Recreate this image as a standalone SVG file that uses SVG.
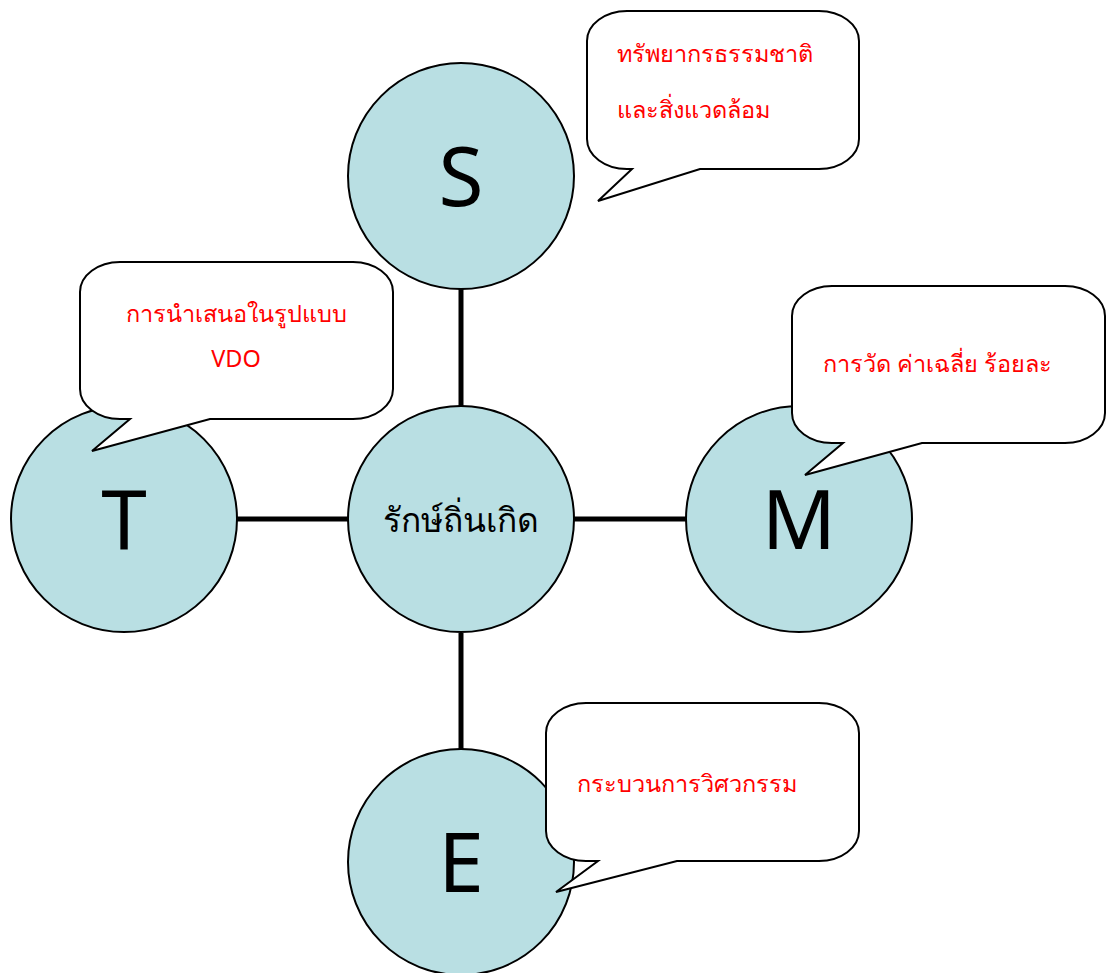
<svg xmlns="http://www.w3.org/2000/svg" width="1107" height="973" viewBox="0 0 1107 973">
<style>
.node{fill:#b9dfe3;stroke:#000;stroke-width:2}
.conn{stroke:#000;stroke-width:5;fill:none}
.call{fill:#fff;stroke:#000;stroke-width:2;stroke-linejoin:miter}
.big{font-family:"Noto Sans","DejaVu Sans",sans-serif;font-size:82px;fill:#000;text-anchor:middle}
.ctr{font-family:"Noto Sans","DejaVu Sans",sans-serif;font-size:33.5px;fill:#000;text-anchor:middle}
.lab{font-family:"Noto Sans","DejaVu Sans",sans-serif;font-size:23.5px;fill:#ff0000}
</style>
<rect width="1107" height="973" fill="#fff"/>
<g id="connectors">
<line class="conn" x1="461" y1="289" x2="461" y2="406"/>
<line class="conn" x1="461" y1="633" x2="461" y2="749"/>
<line class="conn" x1="236" y1="519" x2="349" y2="519"/>
<line class="conn" x1="573" y1="519" x2="687" y2="519"/>
</g>
<g id="node-center">
<circle class="node" cx="461" cy="519" r="113"/>
<text class="ctr" x="461" y="532">รักษ์ถิ่นเกิด</text>
</g>
<g id="node-S">
<circle class="node" cx="461" cy="176" r="113"/>
<text class="big" x="461" y="206">S</text>
</g>
<g id="node-T">
<circle class="node" cx="124" cy="519" r="113"/>
<text class="big" x="124" y="549">T</text>
</g>
<g id="node-M">
<circle class="node" cx="799" cy="519" r="113"/>
<text class="big" x="799" y="549">M</text>
</g>
<g id="node-E">
<circle class="node" cx="461" cy="862" r="113"/>
<text class="big" x="461" y="892">E</text>
</g>
<g id="callout-S">
<path class="call" d="M627,11 H819 A40,30 0 0 1 859,41 V139 A40,30 0 0 1 819,169 H700 L598,201 L632,169 H627 A40,30 0 0 1 587,139 V41 A40,30 0 0 1 627,11 Z"/>
<text class="lab" x="617" y="62">ทรัพยากรธรรมชาติ</text>
<text class="lab" x="617" y="118">และสิ่งแวดล้อม</text>
</g>
<g id="callout-T">
<path class="call" d="M120,262 H353 A40,30 0 0 1 393,292 V389 A40,30 0 0 1 353,419 H210 L92,451 L130,419 H120 A40,30 0 0 1 80,389 V292 A40,30 0 0 1 120,262 Z"/>
<text class="lab" x="236" y="322" text-anchor="middle">การนำเสนอในรูปแบบ</text>
<text class="lab" x="236" y="367" text-anchor="middle">VDO</text>
</g>
<g id="callout-M">
<path class="call" d="M832,286 H1065 A40,30 0 0 1 1105,316 V413 A40,30 0 0 1 1065,443 H922 L805,475 L843,443 H832 A40,30 0 0 1 792,413 V316 A40,30 0 0 1 832,286 Z"/>
<text class="lab" x="823" y="372">การวัด ค่าเฉลี่ย ร้อยละ</text>
</g>
<g id="callout-E">
<path class="call" d="M586,703 H819 A40,30 0 0 1 859,733 V831 A40,30 0 0 1 819,861 H677 L556,892 L598,861 H586 A40,30 0 0 1 546,831 V733 A40,30 0 0 1 586,703 Z"/>
<text class="lab" x="577" y="792">กระบวนการวิศวกรรม</text>
</g>
</svg>
